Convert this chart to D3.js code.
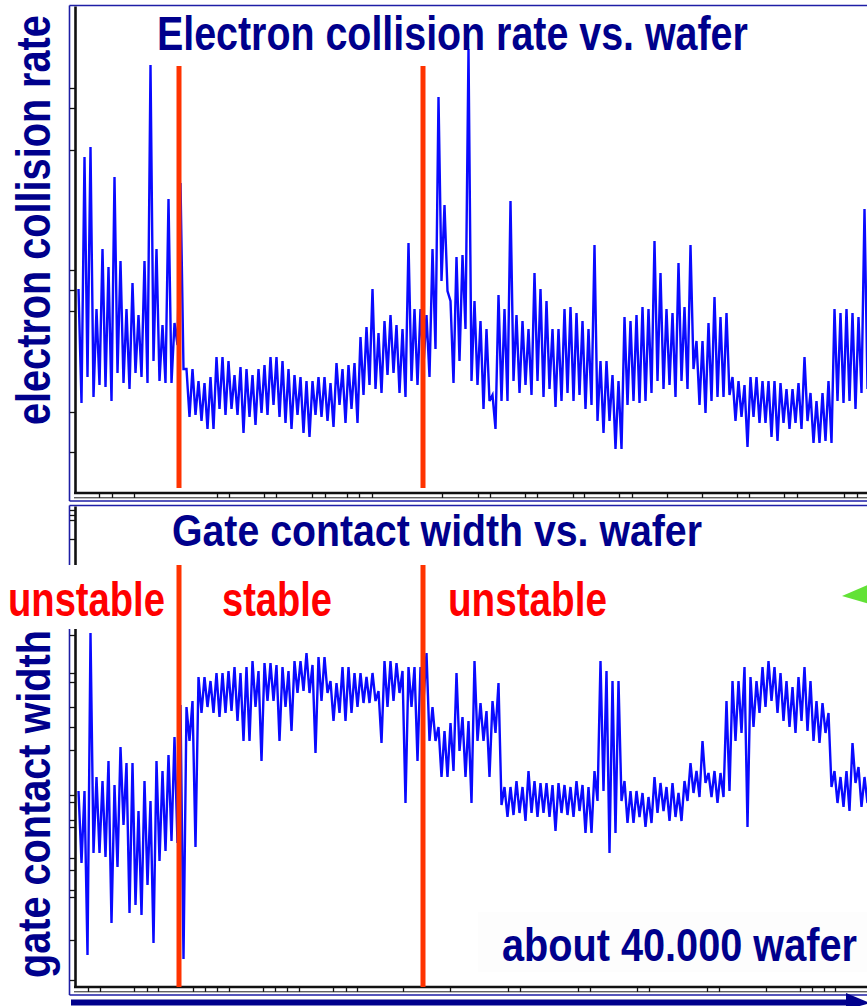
<!DOCTYPE html>
<html>
<head>
<meta charset="utf-8">
<script src="https://cdnjs.cloudflare.com/ajax/libs/d3/7.8.5/d3.min.js"></script>
<style>
  body { margin: 0; background: #fff; }
  text { font-family: "Liberation Sans", Arial, sans-serif; font-weight: bold; }
</style>
</head>
<body>
<div id="chartContainer"></div>
<script>
// one bin = 300 wafers, each bin keeps the high and the low reading
var binWafers = 300;
var rateHi = [51, 84, 86.5, 46, 61, 56.5, 79, 58, 46, 52.5, 44.5, 58, 107, 61, 42, 73.5, 42.5, 77.5, 31, 31,
  28, 27.5, 29, 34, 34, 33, 29.5, 31.5, 31, 29.5, 31, 32, 34, 34, 33, 31, 29.5, 29, 28, 28,
  29, 29, 27.5, 32.5, 31, 32, 32.5, 39, 41.5, 51, 40, 43, 44.5, 42, 41, 62.5, 46, 46, 44.5, 61,
  99, 72, 48, 59, 59.5, 111, 48, 43, 41, 24.5, 49.5, 46, 73, 44.5, 43, 41, 55, 51, 48, 41,
  41, 46, 46.5, 45, 43, 41, 62, 33, 33, 29.5, 28, 44, 43, 44.5, 46.5, 46, 63, 55, 46, 45,
  57.5, 46.5, 62, 38, 38, 42.5, 49, 44, 45, 29, 28, 27, 29, 29, 28, 28, 28, 27.5, 26, 26,
  27.5, 34, 25, 23, 25, 28, 46, 45, 46, 45, 44, 71];
var rateLo = [22.5, 29, 24, 27, 26.5, 23, 30, 27.5, 26, 30, 29, 27.5, 33, 28, 27.5, 27.5, 37, 31, 19, 19.5,
  18, 16, 16, 21, 19.5, 21, 19.5, 15, 19, 17, 20, 19.5, 22, 19, 17.5, 16, 19.5, 15, 14, 19.5,
  19, 18, 16.5, 22, 17.5, 21, 17.5, 24.5, 27, 26, 25, 29.5, 30, 25, 24, 28, 27, 32, 29, 36,
  53, 50.5, 27.5, 33, 41, 28, 27, 21, 23, 16, 23, 23, 28, 25, 27, 24.5, 28, 24, 26, 21.5,
  23, 25, 23, 24.5, 21, 22, 18, 15, 18, 11, 11, 22, 23, 22.5, 23, 25, 28, 26, 27, 24,
  28, 26, 31, 22, 20, 23, 24, 24, 24.5, 18, 19, 11.5, 19, 17.5, 17.5, 14, 13, 17.5, 16, 17.5,
  16, 18, 12.5, 12.5, 13, 12.5, 23, 22.5, 23, 21, 25, 26];
var widthHi = [49, 49, 88.5, 52.5, 51.5, 56.5, 50.5, 60, 56, 56, 44, 51.5, 46.5, 56.5, 54, 58, 62.5, 70.5, 70, 71.5,
  77.5, 77.5, 76.5, 78.5, 78.5, 79, 80, 78.5, 80, 81.5, 79, 81, 81, 80.5, 80, 79, 81.5, 81.5, 83.5, 80.5,
  82.5, 82.5, 76.5, 76, 80, 80, 78.5, 78.5, 77.5, 78.5, 74, 81.5, 81.5, 81, 79, 80, 80, 80, 83.5, 70,
  65, 64, 66, 78.5, 67.5, 66.5, 81.5, 71, 69, 71.5, 76, 50, 50, 51.5, 50, 54, 51.5, 51, 51, 50.5,
  51, 50.5, 50, 51.5, 50.5, 50, 54, 81.5, 79, 76.5, 76.5, 51.5, 49, 49, 48.5, 47.5, 52.5, 51, 50, 51,
  48.5, 51.5, 56, 54, 61.5, 53.5, 54, 53.5, 71.5, 76.5, 76.5, 80, 77.5, 76.5, 80, 81.5, 80, 78.5, 76.5, 75,
  77.5, 80, 76.5, 71.5, 71, 68.5, 54, 52.5, 54, 61, 55, 52.5];
var widthLo = [31, 8, 33.5, 33.5, 32.5, 16, 30, 40.5, 18.5, 20.5, 18, 25.5, 11, 31.5, 34, 36.5, 36, 7, 61.5, 35,
  68.5, 70, 68.5, 67.5, 68.5, 69, 66.5, 61.5, 61.5, 70, 56.5, 71.5, 71.5, 61.5, 70, 64, 73.5, 74, 73.5, 58.5,
  71.5, 73.5, 66.5, 68.5, 66.5, 68.5, 70, 71, 71, 71.5, 61, 70, 71.5, 73.5, 46, 70, 56.5, 71.5, 61.5, 61.5,
  52.5, 52.5, 54, 59, 52.5, 46, 61.5, 61.5, 52.5, 63.5, 45.5, 42.5, 43, 43.5, 41.5, 43.5, 42.5, 43.5, 42.5, 39,
  43.5, 43, 42.5, 44, 38.5, 38.5, 46.5, 49, 33.5, 38.5, 46.5, 41, 41, 42.5, 40, 41, 43.5, 44, 41.5, 42.5,
  41.5, 46.5, 48.5, 47.5, 51, 47.5, 46, 47.5, 49, 61.5, 63.5, 40, 65, 68.5, 70, 71.5, 68.5, 66.5, 65, 63.5,
  66.5, 64, 61.5, 61, 63.5, 50, 46, 45, 44, 51, 45, 46];
var phaseBreaks = [5100, 17300];
var phaseNames = ["unstable", "stable", "unstable"];
var rateTicksY = [101.25, 96.25, 85.75, 55.75, 50.75, 45.5, 20.25, 10.25];
var widthTicksY = [119.25, 118, 116.75, 112, 88, 78.5, 76.25, 70, 65, 59.25, 48, 46.25, 41.75, 40,
  32.25, 29.25, 24.25, 22.5, 11.75, 1.75];
var rateTicksX = [1100, 1750, 2850, 7000, 7600, 9350, 9950, 11750, 12400, 13500, 14100, 14750, 18250,
  20050, 20650, 22400, 23000, 24800, 25350, 27100, 27750, 29500, 31250, 33000, 33600, 35350, 36000, 38350, 39000];
var widthTicksX = [550, 1150, 2850, 3500, 4050, 5800, 6400, 7000, 7600, 9300, 9900, 10500, 11100, 12800,
  13450, 14000, 16300, 18650, 21550, 22150, 25050, 25650, 28000, 28600, 31500, 32100, 34450, 36150, 36750,
  37350, 37900];

var W = 867, H = 1006;
var navy = "#00008c", frameBlue = "#1e1ea6", dataBlue = "#0a0aff", redLine = "#ff3300";

var svg = d3.select("#chartContainer").append("svg")
  .attr("width", W).attr("height", H)
  .style("display", "block");

var x = d3.scaleLinear().domain([0, 39600]).range([77, 869]);
var yRate = d3.scaleLinear().domain([0, 120]).range([493, 13]);
var yWidth = d3.scaleLinear().domain([0, 120]).range([987, 507]);

function zigzag(hi, lo) {
  var pts = [];
  hi.forEach(function (h, i) {
    pts.push({ w: i * binWafers + binWafers / 4, v: h });
    pts.push({ w: i * binWafers + binWafers * 3 / 4, v: lo[i] });
  });
  return pts;
}

// panel frames and axes
function panel(top, bottom, y, ticksY, ticksX) {
  var g = svg.append("g");
  // outer blue frame
  g.append("line").attr("x1", 69.5).attr("x2", W).attr("y1", top).attr("y2", top)
    .attr("stroke", frameBlue).attr("stroke-width", 1.6);
  g.append("line").attr("x1", 69.5).attr("x2", 69.5).attr("y1", top).attr("y2", bottom + 8)
    .attr("stroke", frameBlue).attr("stroke-width", 1.6);
  g.append("line").attr("x1", 69.5).attr("x2", W).attr("y1", bottom + 8).attr("y2", bottom + 8)
    .attr("stroke", frameBlue).attr("stroke-width", 1.6);
  // left tick axis
  g.append("g").attr("transform", "translate(75,0)")
    .call(d3.axisLeft(y).tickValues(ticksY).tickSize(5).tickFormat(""))
    .call(function (a) {
      a.select(".domain").remove();
      a.selectAll("line").attr("stroke", "#111").attr("stroke-width", 1.3);
    });
  // bottom tick axis
  g.append("g").attr("transform", "translate(0," + bottom + ")")
    .call(d3.axisBottom(x).tickValues(ticksX).tickSize(5).tickFormat(""))
    .call(function (a) {
      a.select(".domain").remove();
      a.selectAll("line").attr("stroke", "#111").attr("stroke-width", 1.3);
    });
  g.append("line").attr("x1", 74).attr("x2", W).attr("y1", bottom + 4.8).attr("y2", bottom + 4.8)
    .attr("stroke", "#222").attr("stroke-width", 1);
  g.append("line").attr("x1", 75.5).attr("x2", 75.5).attr("y1", top + 1).attr("y2", bottom + 1)
    .attr("stroke", "#111").attr("stroke-width", 2.6);
  g.append("line").attr("x1", 74).attr("x2", W).attr("y1", bottom).attr("y2", bottom)
    .attr("stroke", "#111").attr("stroke-width", 2.6);
}
panel(5.5, 493, yRate, rateTicksY, rateTicksX);
panel(505.5, 987, yWidth, widthTicksY, widthTicksX);

// series: alternating high/low readings give the dense vertical strokes
svg.append("path")
  .datum(zigzag(rateHi, rateLo))
  .attr("fill", "none").attr("stroke", dataBlue).attr("stroke-width", 2.4)
  .attr("d", d3.line().x(function (d) { return x(d.w); }).y(function (d) { return yRate(d.v); }));
svg.append("path")
  .datum(zigzag(widthHi, widthLo))
  .attr("fill", "none").attr("stroke", dataBlue).attr("stroke-width", 2.4)
  .attr("d", d3.line().x(function (d) { return x(d.w); }).y(function (d) { return yWidth(d.v); }));

// label backgrounds
svg.append("rect").attr("x", 0).attr("y", 565).attr("width", 760).attr("height", 64).attr("fill", "#fff");
svg.append("rect").attr("x", 478).attr("y", 912).attr("width", 389).attr("height", 60).attr("fill", "#fdfdfd");

// phase boundaries
phaseBreaks.forEach(function (b) {
  svg.append("line").attr("x1", x(b)).attr("x2", x(b)).attr("y1", 66).attr("y2", 488)
    .attr("stroke", redLine).attr("stroke-width", 5);
  svg.append("line").attr("x1", x(b)).attr("x2", x(b)).attr("y1", 565).attr("y2", 987)
    .attr("stroke", redLine).attr("stroke-width", 5);
});

// text squeezed horizontally like the slide: measure, then scale along the reading direction
function label(t, px, py, size, len, color, rot) {
  var el = svg.append("text")
    .attr("x", 0).attr("y", 0)
    .attr("font-size", size).attr("fill", color)
    .text(t);
  var natural = el.node().getComputedTextLength();
  var sx = len / natural;
  el.attr("transform", "translate(" + px + "," + py + ")" + (rot ? " rotate(-90)" : "") +
    " scale(" + sx + ",1)");
  return el;
}
label("Electron collision rate vs. wafer", 157, 50, 48, 591, navy);
label("Gate contact width vs. wafer", 172, 546, 45, 530, navy);
label("electron collision rate", 50, 425, 49, 410, navy, true);
label("gate contact width", 50, 978, 47, 348, navy, true);
label("about 40.000 wafer", 502, 961, 47, 355, navy);

var phaseX = [8, 222, 448], phaseLen = [157, 110, 159];
phaseNames.forEach(function (n, i) {
  label(n, phaseX[i], 616, 48, phaseLen[i], "#ff0000");
});

// green pointer at the right edge
svg.append("path").attr("d", "M842,596 L870,584 L870,604 Z").attr("fill", "#62e236");

// wafer direction arrow
svg.append("rect").attr("x", 71).attr("y", 999.5).attr("width", 780).attr("height", 6).attr("fill", navy);
svg.append("path").attr("d", "M846,993 L870,1003 L846,1010 Z").attr("fill", navy);
</script>
</body>
</html>
